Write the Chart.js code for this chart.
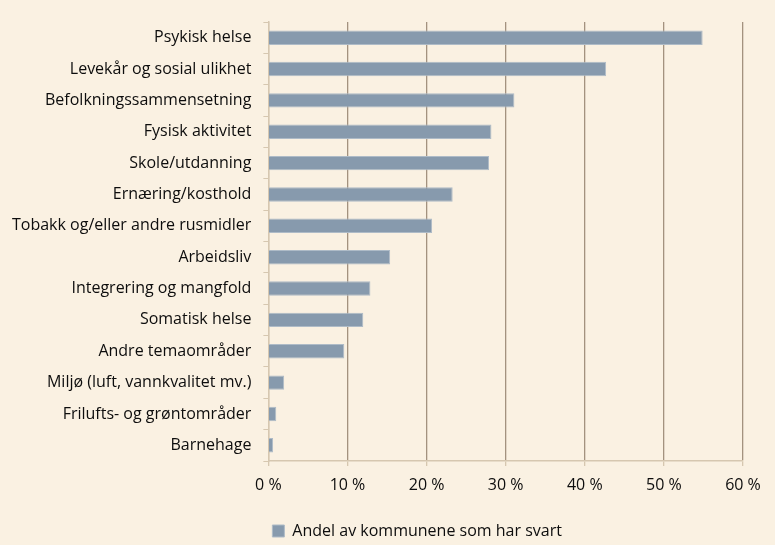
<!DOCTYPE html>
<html>
<head>
    <title>Andel av kommunene</title>
    <script src="https://cdn.jsdelivr.net/npm/chart.js"></script>
    <style>
        html, body { margin: 0; padding: 0; background: #faf1e2; }
        #wrap { width: 775px; height: 545px; position: relative; }
    </style>
</head>
<body>
    <div id="wrap"><canvas id="chart"></canvas></div>

    <script>
        // categories, top to bottom
        const categories = [
            'Psykisk helse',
            'Levekår og sosial ulikhet',
            'Befolkningssammensetning',
            'Fysisk aktivitet',
            'Skole/utdanning',
            'Ernæring/kosthold',
            'Tobakk og/eller andre rusmidler',
            'Arbeidsliv',
            'Integrering og mangfold',
            'Somatisk helse',
            'Andre temaområder',
            'Miljø (luft, vannkvalitet mv.)',
            'Frilufts- og grøntområder',
            'Barnehage'
        ];
        // percent of municipalities
        const shares = [54.9, 42.7, 31.1, 28.2, 27.9, 23.3, 20.7, 15.4, 12.9, 12.0, 9.6, 2.0, 1.0, 0.6];
        const seriesName = 'Andel av kommunene som har svart';
        const xMax = 60;
        const xStep = 10;

        const FONT = "'Open Sans', 'Noto Sans', sans-serif";
        const INK = '#0d0d0d';
        const TAN = '#d6c7b0';
        const GRID = '#a3927f';

        const ctx = document.getElementById('chart').getContext('2d');
        new Chart(ctx, {
            type: 'bar',
            data: {
                labels: categories,
                datasets: [{
                    label: seriesName,
                    data: shares,
                    backgroundColor: '#879aad',
                    borderColor: '#aebbc7',
                    borderWidth: 1,
                    categoryPercentage: 1,
                    barPercentage: 0.46
                }]
            },
            options: {
                indexAxis: 'y',
                responsive: true,
                maintainAspectRatio: false,
                animation: false,
                layout: { padding: { top: 22, right: 32, bottom: -4, left: 0 } },
                scales: {
                    x: {
                        min: 0,
                        max: xMax,
                        ticks: {
                            stepSize: xStep,
                            color: INK,
                            padding: 10,
                            font: { family: FONT, size: 16 },
                            callback: v => v + ' %'
                        },
                        grid: {
                            color: c => c.index === 0 ? TAN : GRID,
                            tickColor: TAN,
                            tickLength: 5,
                            lineWidth: 1.3
                        },
                        border: { color: TAN, width: 1.5 },
                        // extra room between tick labels and legend
                        afterFit: scale => { scale.height = 58; }
                    },
                    y: {
                        ticks: {
                            color: INK,
                            padding: 12,
                            font: { family: FONT, size: 16 }
                        },
                        grid: {
                            drawOnChartArea: false,
                            tickColor: TAN,
                            tickLength: 5
                        },
                        border: { color: TAN, width: 1.5 }
                    }
                },
                plugins: {
                    legend: {
                        position: 'bottom',
                        align: 'start',
                        fullSize: false,
                        labels: {
                            boxWidth: 12,
                            boxHeight: 12,
                            padding: 4,
                            color: INK,
                            font: { family: FONT, size: 16 }
                        }
                    },
                    tooltip: { enabled: false }
                }
            }
        });
    </script>
</body>
</html>
